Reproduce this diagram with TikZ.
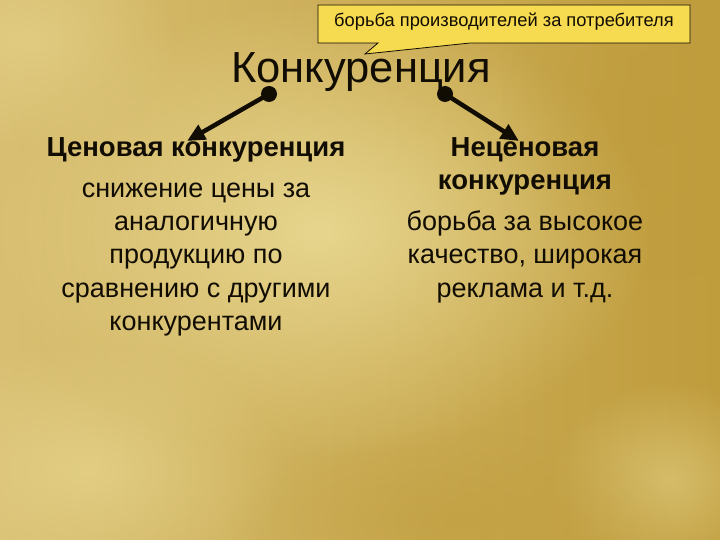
\documentclass[tikz,border=0pt]{standalone}
\usepackage{fontspec}
\setmainfont{Liberation Sans}
\usetikzlibrary{arrows.meta,fadings}
\definecolor{goldbase}{HTML}{D1B358}
\definecolor{goldlight}{HTML}{EADA94}
\definecolor{golddark}{HTML}{BF9C3C}
\definecolor{calloutfill}{HTML}{F6DA4F}
\definecolor{ink}{HTML}{120D02}
\tikzfading[name=softblob, inner color=transparent!0, outer color=transparent!100]
\tikzset{
  line/.style={anchor=base, inner sep=0pt, text=ink, font=\fontsize{27}{33}\selectfont},
  headline/.style={anchor=base, inner sep=0pt, text=ink, font=\fontsize{27.5}{33}\selectfont\bfseries},
  titletext/.style={anchor=base, inner sep=0pt, text=ink, font=\fontsize{43.5}{50}\selectfont},
  callouttext/.style={anchor=base, inner sep=0pt, text=ink, font=\fontsize{18.3}{22}\selectfont},
  bigarrow/.style={line width=4.5pt, draw=ink, -{Triangle[length=18pt,width=16pt]}},
  dotmark/.style={circle, fill=ink, inner sep=0pt, minimum size=16pt},
  blob/.style={path fading=softblob}
}
\begin{document}
\begin{tikzpicture}[x=1pt,y=-1pt]
\useasboundingbox (0,0) rectangle (720,540);
% background
\shade[left color=goldbase!85!white, right color=golddark] (0,0) rectangle (720,540);
\fill[goldlight, blob, opacity=0.9] (320,230) ellipse (330 and 230);
\fill[goldlight, blob, opacity=0.6] (90,470) ellipse (200 and 130);
\fill[goldlight, blob, opacity=0.5] (670,480) ellipse (120 and 100);
\fill[goldlight, blob, opacity=0.5] (30,40) ellipse (150 and 110);
\fill[golddark, blob, opacity=0.6] (660,120) ellipse (160 and 160);
\fill[golddark, blob, opacity=0.5] (450,520) ellipse (220 and 90);
% callout
\filldraw[fill=calloutfill, draw=ink, line width=0.8pt]
  (318,5) -- (690,5) -- (690,43) -- (470,43) -- (365,54) -- (378,43) -- (318,43) -- cycle;
\node[callouttext] (callout) at (504,27) {борьба производителей за потребителя};
% title
\node[titletext] (title) at (361,83) {Конкуренция};
% dots and arrows
\node[dotmark] (dl) at (269,94) {};
\node[dotmark] (dr) at (445,94) {};
\coordinate (tl) at (187,141);
\coordinate (tr) at (519,141);
\draw[bigarrow] (dl.center) -- (tl);
\draw[bigarrow] (dr.center) -- (tr);
% left column
\node[headline] (lh) at (196,157) {Ценовая конкуренция};
\node[line] (l1) at (196,197) {снижение цены за};
\node[line] (l2) at (196,230) {аналогичную};
\node[line] (l3) at (196,263) {продукцию по};
\node[line] (l4) at (196,297) {сравнению с другими};
\node[line] (l5) at (196,330) {конкурентами};
% right column
\node[headline] (rh1) at (525,157) {Неценовая};
\node[headline] (rh2) at (525,190) {конкуренция};
\node[line] (r1) at (525,230) {борьба за высокое};
\node[line] (r2) at (525,263) {качество, широкая};
\node[line] (r3) at (525,297) {реклама и т.д.};
\end{tikzpicture}
\end{document}
